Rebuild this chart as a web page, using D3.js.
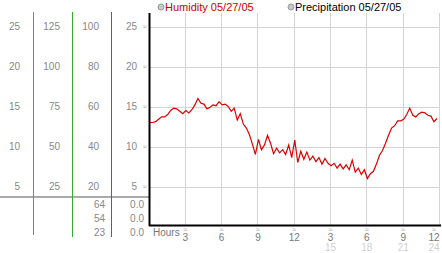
<!DOCTYPE html>
<html>
<head>
<meta charset="utf-8">
<script src="https://cdn.jsdelivr.net/npm/d3@7"></script>
<style>
  body { margin: 0; background: #fff; }
  svg { display: block; font-family: "Liberation Sans", Arial, sans-serif; }
</style>
</head>
<body>
<svg id="canvas" width="442" height="253"></svg>
<script>
// humidity readings, one every 15 minutes from midnight
var humidity = [
  13.0, 13.0, 13.1, 13.4, 13.7, 13.7, 14.0, 14.5, 14.8, 14.7, 14.4, 14.1,
  14.5, 14.2, 14.6, 15.2, 16.0, 15.4, 15.3, 14.7, 14.9, 15.2, 15.1, 15.6,
  15.2, 15.3, 15.0, 14.4, 14.8, 13.3, 14.1, 12.8, 12.3, 11.5, 10.3, 9.0,
  10.9, 9.6, 10.2, 11.4, 10.4, 9.1, 9.8, 9.2, 9.6, 9.0, 10.2, 8.6,
  10.8, 8.0, 9.4, 8.4, 9.3, 8.3, 8.8, 8.1, 8.6, 7.8, 8.5, 7.9,
  7.6, 7.9, 7.3, 7.8, 7.2, 7.7, 7.1, 8.3, 6.8, 7.3, 6.5, 7.1,
  6.0, 6.6, 6.9, 7.8, 8.9, 9.5, 10.4, 11.4, 12.3, 12.6, 13.2, 13.2,
  13.4, 14.0, 14.8, 13.9, 13.7, 14.1, 14.3, 14.2, 13.9, 13.8, 13.1, 13.5
];
var STEP = 0.25; // hours between readings

var scaleA = [25, 20, 15, 10, 5];
var scaleB = [125, 100, 75, 50, 25];
var scaleC = [100, 80, 60, 40, 20];
var scaleD = [25, 20, 15, 10, 5];
var rowsC = ["64", "54", "23"];
var rowsD = ["0.0", "0.0", "0.0"];
var hourTicks = [3, 6, 9, 12, 15, 18, 21, 24];

var legend = [
  {label: "Humidity 05/27/05", color: "#cc0000", x: 161},
  {label: "Precipitation 05/27/05", color: "#000", x: 291}
];

var svg = d3.select("#canvas");

var x = d3.scaleLinear().domain([0, 24]).range([149.5, 440]);
var y = d3.scaleLinear().domain([0, 25]).range([226.5, 26.5]);
var PLOT_TOP = 13;
var PLOT_BOTTOM = 225;

// grid
svg.append("g").selectAll("line").data(scaleD).join("line")
  .attr("x1", 150).attr("x2", 440)
  .attr("y1", function(d){ return Math.round(y(d)) + 0.5; })
  .attr("y2", function(d){ return Math.round(y(d)) + 0.5; })
  .attr("stroke", "#d4d4d4");

svg.append("g").selectAll("line").data(hourTicks).join("line")
  .attr("x1", function(d){ return Math.round(x(d)) - 0.5; })
  .attr("x2", function(d){ return Math.round(x(d)) - 0.5; })
  .attr("y1", PLOT_TOP).attr("y2", PLOT_BOTTOM)
  .attr("stroke", "#d4d4d4");

// little marks at each grid line
svg.append("g").selectAll("text").data(scaleD).join("text")
  .attr("x", 145).attr("y", function(d){ return y(d); })
  .attr("dy", "0.35em").attr("text-anchor", "middle")
  .attr("font-size", 7).attr("fill", "#999").text("≈");

// left scale columns
function column(values, rightX, top) {
  var s = d3.scaleLinear().domain([0, top]).range(y.range());
  svg.append("g").selectAll("text").data(values).join("text")
    .attr("x", rightX)
    .attr("y", function(d){ return s(d); })
    .attr("dy", "0.35em")
    .attr("text-anchor", "end")
    .attr("font-size", 10)
    .attr("fill", "#888")
    .text(function(d){ return d; });
}
column(scaleA, 20, 25);
column(scaleB, 60, 125);
column(scaleC, 99, 100);
column(scaleD, 137, 25);

var rowY = d3.scalePoint().domain([0, 1, 2]).range([204, 232]);
function lowRows(values, rightX) {
  svg.append("g").selectAll("text").data(values).join("text")
    .attr("x", rightX)
    .attr("y", function(d, i){ return rowY(i); })
    .attr("dy", "0.35em")
    .attr("text-anchor", "end")
    .attr("font-size", 10)
    .attr("fill", "#888")
    .text(function(d){ return d; });
}
lowRows(rowsC, 105);
lowRows(rowsD, 144);

// separator + column lines
svg.append("line").attr("x1", 0).attr("x2", 150).attr("y1", 197).attr("y2", 197)
  .attr("stroke", "#aaa").attr("stroke-width", 2);
var colLines = [
  {x: 33.5, color: "#3399cc", y2: 235},
  {x: 72.5, color: "#33aa33", y2: 237},
  {x: 111.5, color: "#cc3333", y2: 237}
];
svg.append("g").selectAll("line").data(colLines).join("line")
  .attr("x1", function(d){ return d.x; }).attr("x2", function(d){ return d.x; })
  .attr("y1", 12).attr("y2", function(d){ return d.y2; })
  .attr("stroke", function(d){ return d.color; });

// humidity line
var line = d3.line()
  .x(function(d, i){ return x(i * STEP); })
  .y(function(d){ return y(d); });
svg.append("path").datum(humidity)
  .attr("d", line)
  .attr("fill", "none")
  .attr("stroke", "#dd0000")
  .attr("stroke-width", 1.2);

// axes
svg.append("line").attr("x1", 149.5).attr("x2", 149.5).attr("y1", PLOT_TOP).attr("y2", 226)
  .attr("stroke", "#000").attr("stroke-width", 2);
svg.append("line").attr("x1", 149).attr("x2", 441).attr("y1", 225.5).attr("y2", 225.5)
  .attr("stroke", "#000").attr("stroke-width", 2);

// hour labels
svg.append("text").attr("x", 153).attr("y", 235.5)
  .attr("font-size", 10).attr("fill", "#777").text("Hours");
var hourG = svg.append("g").selectAll("g").data(hourTicks).join("g")
  .attr("transform", function(d){ return "translate(" + Math.min(x(d) - 0.5, 434) + ",0)"; });
hourG.append("text").attr("y", 232).attr("text-anchor", "middle")
  .attr("font-size", 7).attr("fill", "#999").text("≈");
hourG.append("text").attr("y", 241).attr("text-anchor", "middle")
  .attr("font-size", 10).attr("fill", "#777")
  .text(function(d){ return d > 12 ? d - 12 : d; });
hourG.append("text").attr("y", 251).attr("text-anchor", "middle")
  .attr("font-size", 10).attr("fill", "#d0d0d0")
  .text(function(d){ return d > 12 ? d : ""; });

// legend
var lg = svg.append("g").selectAll("g").data(legend).join("g")
  .attr("transform", function(d){ return "translate(" + d.x + ",7)"; });
lg.append("circle").attr("r", 3).attr("fill", "#c8c8c8").attr("stroke", "#999");
lg.append("text").attr("x", 4).attr("y", 3.5).attr("font-size", 11)
  .attr("fill", function(d){ return d.color; })
  .text(function(d){ return d.label; });
</script>
</body>
</html>
